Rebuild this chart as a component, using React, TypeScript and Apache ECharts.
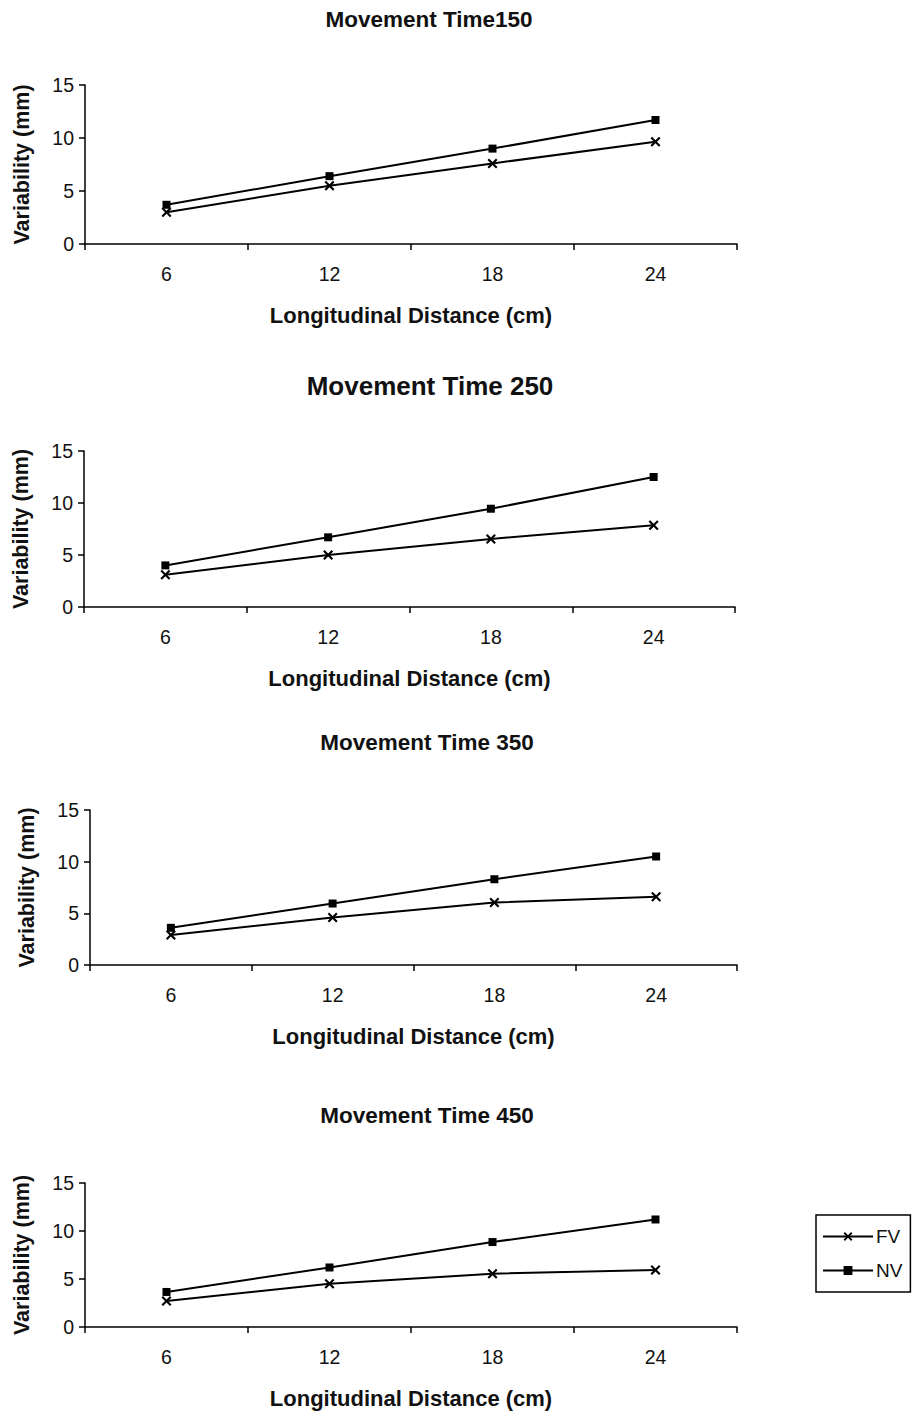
import React, { useEffect, useRef } from "react";
import * as echarts from "echarts";

const categories = ["6", "12", "18", "24"];
const yTicks = [0, 5, 10, 15];
const panelTitles = ["Movement Time150", "Movement Time 250", "Movement Time 350", "Movement Time 450"];
const fv150 = [3.0, 5.5, 7.6, 9.65];
const nv150 = [3.7, 6.4, 9.0, 11.7];
const fv250 = [3.1, 5.0, 6.55, 7.85];
const nv250 = [4.0, 6.7, 9.45, 12.5];
const fv350 = [2.9, 4.6, 6.05, 6.6];
const nv350 = [3.6, 5.95, 8.3, 10.5];
const fv450 = [2.7, 4.5, 5.55, 5.95];
const nv450 = [3.65, 6.2, 8.85, 11.2];
const fvSeries = [fv150, fv250, fv350, fv450];
const nvSeries = [nv150, nv250, nv350, nv450];

const FONT = "'Liberation Sans', Arial, sans-serif";
const X_SYMBOL =
  "path://M0,1.5 L1.5,0 L5,3.5 L8.5,0 L10,1.5 L6.5,5 L10,8.5 L8.5,10 L5,6.5 L1.5,10 L0,8.5 L3.5,5 Z";

const grids = [
  { left: 85, top: 85, width: 652, height: 159 },
  { left: 84, top: 451, width: 651, height: 156 },
  { left: 90, top: 810, width: 647, height: 155 },
  { left: 85, top: 1183, width: 652, height: 144 },
];
const titleLayout = [
  { x: 429, y: 8, size: 22.5 },
  { x: 430, y: 373, size: 26 },
  { x: 427, y: 731, size: 22.5 },
  { x: 427, y: 1104, size: 22.5 },
];

export default function App() {
  const ref = useRef<HTMLDivElement>(null);
  useEffect(() => {
    if (!ref.current) return;
    const chart = echarts.init(ref.current, null, { renderer: "svg" });
    const axisLine = { show: true, lineStyle: { color: "#000", width: 1.5 } };
    const option: any = {
      animation: false,
      backgroundColor: "#fff",
      textStyle: { fontFamily: FONT, color: "#000" },
      title: panelTitles.map((t, i) => ({
        text: t,
        left: titleLayout[i].x,
        top: titleLayout[i].y,
        textAlign: "center",
        padding: 0,
        textStyle: {
          fontFamily: FONT,
          fontWeight: "bold",
          fontSize: titleLayout[i].size,
          color: "#111",
        },
      })),
      legend: {
        data: ["FV", "NV"],
        orient: "vertical",
        left: 816,
        top: 1215,
        borderColor: "#000",
        borderWidth: 1.5,
        padding: [12, 8, 12, 6],
        itemWidth: 50,
        itemHeight: 11,
        itemGap: 15,
        textStyle: { fontFamily: FONT, fontSize: 19, color: "#111", padding: [0, 0, 0, -2] },
      },
      grid: grids.map((g) => ({ ...g, containLabel: false })),
      xAxis: grids.map((_, i) => ({
        type: "category",
        gridIndex: i,
        data: categories,
        boundaryGap: true,
        axisLine,
        axisTick: { show: true, length: 6, lineStyle: { color: "#000", width: 1.5 } },
        axisLabel: { fontFamily: FONT, fontSize: 19.5, color: "#111", margin: 20 },
        splitLine: { show: false },
        name: "Longitudinal Distance (cm)",
        nameLocation: "middle",
        nameGap: 60,
        nameTextStyle: { fontFamily: FONT, fontSize: 22, fontWeight: "bold", color: "#111" },
      })),
      yAxis: grids.map((_, i) => ({
        type: "value",
        gridIndex: i,
        min: 0,
        max: 15,
        interval: 5,
        axisLine,
        axisTick: { show: true, length: 6, lineStyle: { color: "#000", width: 1.5 } },
        axisLabel: {
          fontFamily: FONT,
          fontSize: 19.5,
          color: "#111",
          margin: 11,
          formatter: (v: number) => (yTicks.includes(v) ? String(v) : ""),
        },
        splitLine: { show: false },
        name: "Variability (mm)",
        nameLocation: "middle",
        nameGap: 52,
        nameTextStyle: { fontFamily: FONT, fontSize: 21.5, fontWeight: "bold", color: "#111" },
      })),
      series: [
        ...fvSeries.map((d, i) => ({
          name: "FV",
          type: "line",
          xAxisIndex: i,
          yAxisIndex: i,
          data: d,
          symbol: X_SYMBOL,
          symbolSize: 10,
          showAllSymbol: true,
          lineStyle: { color: "#000", width: 2 },
          itemStyle: { color: "#000" },
        })),
        ...nvSeries.map((d, i) => ({
          name: "NV",
          type: "line",
          xAxisIndex: i,
          yAxisIndex: i,
          data: d,
          symbol: "rect",
          symbolSize: 8,
          showAllSymbol: true,
          lineStyle: { color: "#000", width: 2 },
          itemStyle: { color: "#000" },
        })),
      ],
    };
    chart.setOption(option);
    return () => chart.dispose();
  }, []);
  return (
    <div
      ref={ref}
      style={{ position: "absolute", left: 0, top: 0, width: 917, height: 1421, background: "#fff" }}
    />
  );
}
